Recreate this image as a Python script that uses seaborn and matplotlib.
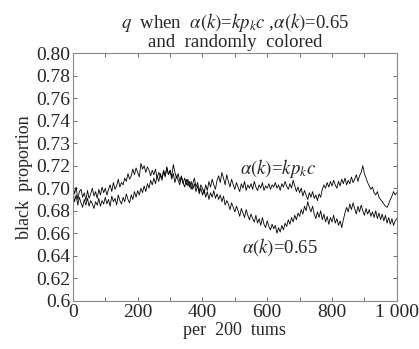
import numpy as np
import seaborn as sns
import matplotlib.pyplot as plt

# datos (cada 5 pasos)
pasos = list(range(0, 1001, 5))

q_kpkc = [0.703, 0.695, 0.701, 0.690, 0.697, 0.699, 0.692, 0.696, 0.689, 0.698,
          0.691, 0.695, 0.700, 0.693, 0.697, 0.691, 0.699, 0.694, 0.701, 0.696,
          0.700, 0.694, 0.699, 0.703, 0.697, 0.705, 0.699, 0.702, 0.708, 0.701,
          0.705, 0.703, 0.709, 0.706, 0.713, 0.708, 0.711, 0.717, 0.712, 0.718,
          0.714, 0.710, 0.722, 0.717, 0.720, 0.714, 0.719, 0.716, 0.711, 0.716,
          0.712, 0.717, 0.709, 0.714, 0.711, 0.707, 0.715, 0.710, 0.719, 0.712,
          0.716, 0.708, 0.713, 0.705, 0.711, 0.707, 0.703, 0.710, 0.705, 0.701,
          0.708, 0.702, 0.706, 0.699, 0.704, 0.709, 0.701, 0.705, 0.697, 0.703,
          0.700, 0.695, 0.703, 0.698, 0.706, 0.701, 0.708, 0.703, 0.699, 0.707,
          0.711, 0.705, 0.714, 0.709, 0.703, 0.712, 0.706, 0.701, 0.708, 0.703,
          0.699, 0.705, 0.701, 0.697, 0.704, 0.700, 0.706, 0.698, 0.703, 0.700,
          0.704, 0.699, 0.706, 0.701, 0.698, 0.703, 0.700, 0.705, 0.698, 0.702,
          0.700, 0.704, 0.699, 0.703, 0.701, 0.705, 0.700, 0.703, 0.698, 0.704,
          0.701, 0.706, 0.702, 0.699, 0.704, 0.700, 0.707, 0.702, 0.697, 0.701,
          0.696, 0.700, 0.693, 0.698, 0.694, 0.690, 0.696, 0.692, 0.697, 0.691,
          0.694, 0.689, 0.695, 0.692, 0.699, 0.703, 0.700, 0.705, 0.701, 0.706,
          0.702, 0.707, 0.703, 0.700, 0.706, 0.702, 0.708, 0.704, 0.709, 0.703,
          0.707, 0.704, 0.710, 0.705, 0.708, 0.712, 0.706, 0.711, 0.714, 0.720,
          0.713, 0.709, 0.705, 0.702, 0.699, 0.701, 0.696, 0.694, 0.697, 0.692,
          0.690, 0.688, 0.686, 0.684, 0.683, 0.686, 0.690, 0.693, 0.697, 0.694,
          0.696]

q_065 = [0.699, 0.688, 0.694, 0.685, 0.692, 0.687, 0.683, 0.690, 0.685, 0.691,
         0.684, 0.689, 0.686, 0.682, 0.688, 0.685, 0.691, 0.684, 0.689, 0.686,
         0.692, 0.686, 0.690, 0.684, 0.693, 0.688, 0.691, 0.685, 0.694, 0.689,
         0.686, 0.692, 0.688, 0.695, 0.690, 0.687, 0.694, 0.690, 0.697, 0.692,
         0.698, 0.694, 0.700, 0.696, 0.702, 0.697, 0.704, 0.700, 0.707, 0.703,
         0.709, 0.704, 0.711, 0.706, 0.713, 0.709, 0.716, 0.711, 0.718, 0.712,
         0.716, 0.710, 0.721, 0.714, 0.709, 0.713, 0.706, 0.711, 0.704, 0.709,
         0.703, 0.708, 0.701, 0.706, 0.699, 0.704, 0.697, 0.702, 0.695, 0.700,
         0.694, 0.699, 0.692, 0.697, 0.690, 0.696, 0.692, 0.698, 0.691, 0.695,
         0.690, 0.694, 0.688, 0.693, 0.685, 0.689, 0.686, 0.681, 0.687, 0.683,
         0.679, 0.684, 0.680, 0.675, 0.682, 0.678, 0.674, 0.681, 0.676, 0.672,
         0.677, 0.673, 0.670, 0.676, 0.669, 0.673, 0.667, 0.674, 0.668, 0.665,
         0.671, 0.666, 0.663, 0.668, 0.664, 0.667, 0.660, 0.665, 0.661, 0.667,
         0.663, 0.669, 0.666, 0.672, 0.668, 0.674, 0.670, 0.676, 0.672, 0.678,
         0.675, 0.681, 0.677, 0.684, 0.680, 0.688, 0.683, 0.679, 0.684, 0.677,
         0.673, 0.679, 0.674, 0.680, 0.672, 0.677, 0.670, 0.675, 0.668, 0.674,
         0.670, 0.676, 0.669, 0.673, 0.667, 0.671, 0.665, 0.672, 0.678, 0.683,
         0.679, 0.686, 0.681, 0.687, 0.682, 0.677, 0.684, 0.679, 0.685, 0.680,
         0.676, 0.682, 0.677, 0.681, 0.675, 0.679, 0.674, 0.680, 0.673, 0.678,
         0.672, 0.677, 0.671, 0.676, 0.669, 0.674, 0.668, 0.673, 0.667, 0.671,
         0.673]

# etiquetas del eje y tal como aparecen (incluye el 0.73 del original)
etiquetas_y = ['0.6', '0.62', '0.64', '0.66', '0.68', '0.70',
               '0.72', '0.73', '0.74', '0.76', '0.78', '0.80']
etiquetas_x = ['0', '200', '400', '600', '800', '1 000']

sns.set_style('ticks')
plt.rcParams['font.family'] = ['Liberation Serif', 'DejaVu Serif']
plt.rcParams['mathtext.fontset'] = 'stix'

fig = plt.figure(figsize=(4.19, 3.49), dpi=100)
ax = fig.add_axes([0.174, 0.138, 0.773, 0.710])

sns.lineplot(x=pasos, y=q_kpkc, color='black', linewidth=0.6, ax=ax)
sns.lineplot(x=pasos, y=q_065, color='black', linewidth=0.6, ax=ax)

ax.set_xlim(0, 1000)
ax.set_ylim(0.6, 0.82)
ax.set_yticks(0.6 + 0.02 * np.arange(len(etiquetas_y)))
ax.set_yticklabels(etiquetas_y)
ax.set_xticks(np.arange(0, 1001, 200))
ax.set_xticklabels(etiquetas_x)
ax.set_xticks(np.arange(100, 1000, 200), minor=True)
ax.tick_params(which='both', direction='in', length=3, width=0.6,
               top=True, right=True, labelsize=14, color='#555555', pad=2)
for s in ax.spines.values():
    s.set_color('#888888')
    s.set_linewidth(0.8)

ax.set_xlabel('per  200  tums', fontsize=13, labelpad=1)
ax.set_ylabel('black  proportion', fontsize=13, labelpad=2)
ax.set_title(r'$q$  when  $\alpha(k)$=$kp_kc$ ,$\alpha(k)$=0.65' + '\nand  randomly  colored',
             fontsize=13.5, linespacing=1.0, pad=4)

ax.text(515, 0.713, r'$\alpha(k)$=$kp_kc$', fontsize=13.5, va='baseline')
ax.text(522, 0.643, r'$\alpha(k)$=0.65', fontsize=13.5, va='baseline')

plt.savefig('out.png', dpi=100)
